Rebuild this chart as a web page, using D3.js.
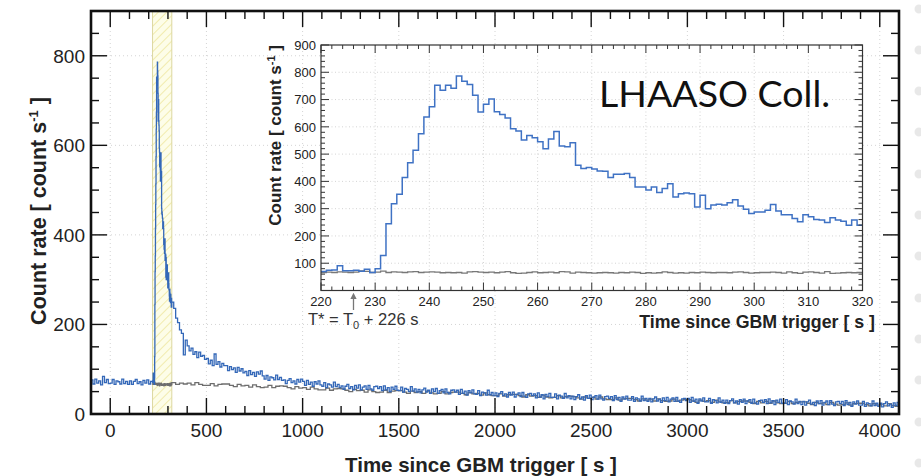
<!DOCTYPE html>
<html><head><meta charset="utf-8">
<script src="https://cdn.jsdelivr.net/npm/d3@7"></script>
<style>
body{margin:0;background:#fff;}
svg{display:block;font-family:"Liberation Sans",Arial,Helvetica,sans-serif;}
</style>
</head><body>
<svg id="c" width="921" height="476"></svg>
<script>
// ---------------- DATA ----------------
// Main panel axis ticks
const mainXTicks = [0,500,1000,1500,2000,2500,3000,3500,4000];
const mainYTicks = [0,200,400,600,800];
const insetXTicks = [220,230,240,250,260,270,280,290,300,310,320];
const insetYTicks = [100,200,300,400,500,600,700,800,900];

// Blue (total count rate), 10 s bins from -100 s to 220 s
const bluePreStart = -100, bluePreWidth = 10;
const bluePre = [76,67,78,69,74,65,84,70,77,68,
                 69,77,66,74,72,67,78,68,73,66,
                 74,66,73,77,68,72,65,75,69,76,
                 67,73];

// Inset: 1 s bins from 220 s to 320 s
const insetStart = 220, insetWidth = 1;
const insetBlue = [70,74,75,91,72,72,74,71,78,66,
                   80,128,245,318,353,414,468,514,575,636,
                   674,752,734,752,741,786,767,755,716,654,
                   683,702,655,645,632,593,585,552,568,560,
                   545,520,555,583,530,527,542,459,447,451,
                   445,438,437,414,426,426,429,414,379,379,
                   368,379,359,374,391,343,355,357,355,306,
                   349,300,313,316,313,322,333,310,298,282,
                   288,288,294,315,291,278,278,264,252,278,
                   270,260,258,249,267,258,254,239,258,239];
const insetGrey = [66,67,66,68,67,66,67,72,70,66,
                   67,71,66,68,67,66,68,69,66,67,
                   68,67,65,66,65,66,64,68,69,67,
                   66,67,65,67,69,65,63,64,66,68,
                   65,66,67,65,69,68,64,67,66,65,
                   64,65,66,65,64,66,65,67,66,63,
                   65,64,65,68,66,64,65,64,66,65,
                   67,66,65,66,66,65,67,68,66,64,
                   65,66,66,67,66,64,68,65,63,67,
                   68,66,64,69,63,64,65,66,65,66];

// Blue, 10 s bins from 320 s to 4100 s
const bluePostStart = 320, bluePostWidth = 10;
const bluePost = [250,236,214,204,188,180,132,165,
  152,141,147,133,139,126,138,129,131,122,
  124,112,120,108,134,111,117,105,113,108,
  108,97,106,99,103,93,104,96,101,92,
  95,86,97,88,93,84,94,89,96,85,
  78,86,75,83,81,76,87,77,82,75,
  76,68,75,79,70,74,67,77,71,78,
  73,64,75,66,71,62,72,67,74,65,
  62,70,59,67,65,60,71,61,66,59,
  63,55,62,66,57,61,54,64,58,65,
  54,60,63,55,64,56,53,61,62,57,
  61,52,63,54,59,50,60,55,62,53,
  52,60,49,57,55,50,61,51,56,49,
  55,47,54,58,49,53,46,56,50,57,
  46,52,55,47,56,48,45,53,54,49,
  53,44,55,46,51,42,52,47,54,45,
  44,52,41,49,47,42,53,43,48,41,
  47,39,46,50,41,45,38,48,42,49,
  38,44,47,39,48,40,37,45,46,41,
  45,36,47,38,43,34,44,39,46,37,
  37,45,34,42,40,35,46,36,41,34,
  40,32,39,43,34,38,31,41,35,42,
  32,38,41,33,42,34,31,39,40,35,
  39,30,41,32,37,28,38,33,40,31,
  31,39,28,36,34,29,40,30,35,28,
  35,27,34,38,29,33,26,36,30,37,
  27,33,36,28,37,29,26,34,35,30,
  35,26,37,28,33,24,34,29,36,27,
  27,35,24,32,30,25,36,26,31,24,
  31,23,30,34,25,29,22,32,26,33,
  23,29,32,24,33,25,22,30,31,26,
  32,23,34,25,30,21,31,26,33,24,
  24,32,21,29,27,22,33,23,28,21,
  28,20,27,31,22,26,19,29,23,30,
  20,26,29,21,30,22,19,27,28,23,
  28,19,30,21,26,17,27,22,29,20,
  20,28,17,25,23,18,29,19,24,17,
  24,16,23,27,18,22,15,25,19,26];

// Grey (background), 20 s bins from 320 s to 4100 s
const greyPostStart = 320, greyPostWidth = 20;
const greyPost = [70,66,69,67,
  69,65,70,66,64, 64,68,63,66,67, 67,64,61,66,63, 64,60,65,61,59,
  60,64,59,62,63, 62,59,56,61,58, 59,55,60,56,54, 54,58,53,56,57,
  56,53,50,55,52, 53,49,54,50,48, 49,53,48,51,52, 52,49,46,51,48,
  50,46,51,47,45, 46,50,45,48,49, 49,46,43,48,45, 46,42,47,43,41,
  41,45,40,43,44, 44,41,38,43,40, 41,37,42,38,36, 37,41,36,39,40,
  39,36,33,38,35, 37,33,38,34,32, 32,36,31,34,35, 35,32,29,34,31,
  33,29,34,30,28, 29,33,28,31,32, 32,29,26,31,28, 30,26,31,27,25,
  26,30,25,28,29, 29,26,23,28,25, 28,24,29,25,23, 24,28,23,26,27,
  27,24,21,26,23, 25,21,26,22,20, 21,25,20,23,24, 24,21,18,23,20,
  22,18,23,19,17];

// Highlighted window (s) and trigger annotation
const bandRange = [220, 320];
const tStar = 226;

// ---------------- DRAW ----------------
const svg = d3.select("#c");
const M = {l:91, r:899, t:11, b:414};
const x = d3.scaleLinear().domain([-100,4100]).range([M.l,M.r]);
const y = d3.scaleLinear().domain([0,900]).range([M.b,M.t]);

const BLUE = "#3468b8", GREY = "#6e6e6e";

function stepPoints(segs){
  const pts=[];
  segs.forEach(s=>s.values.forEach((v,i)=>{
    const x0=s.start+i*s.width; pts.push([x0,v],[x0+s.width,v]);
  }));
  return pts;
}

const defs = svg.append("defs");
defs.append("clipPath").attr("id","mainclip").append("rect")
  .attr("x",M.l).attr("y",M.t).attr("width",M.r-M.l).attr("height",M.b-M.t);
const pat = defs.append("pattern").attr("id","hatch").attr("patternUnits","userSpaceOnUse")
  .attr("width",6).attr("height",6).attr("patternTransform","rotate(45)");
pat.append("rect").attr("width",6).attr("height",6).attr("fill","#fdfde8");
pat.append("line").attr("x1",0).attr("y1",0).attr("x2",0).attr("y2",6)
  .attr("stroke","#efe7a0").attr("stroke-width",1.6);

// background page dots (slide artefact on right)
const dotYs = [9,50,91,132,174,215,256,298,339,380,422,463];
svg.selectAll("circle.pg").data(dotYs).enter().append("circle")
  .attr("cx",919).attr("cy",d=>d).attr("r",4.5).attr("fill","#e8e8e8");

// grid
const g = svg.append("g");
g.selectAll("line.gx").data(mainXTicks).enter().append("line")
  .attr("x1",d=>x(d)).attr("x2",d=>x(d)).attr("y1",M.t).attr("y2",M.b)
  .attr("stroke","#d4d4d4").attr("stroke-dasharray","1,3");
g.selectAll("line.gy").data(mainYTicks.slice(1)).enter().append("line")
  .attr("x1",M.l).attr("x2",M.r).attr("y1",d=>y(d)).attr("y2",d=>y(d))
  .attr("stroke","#d4d4d4").attr("stroke-dasharray","1,3");

// band
g.append("rect").attr("x",x(bandRange[0])).attr("y",M.t)
  .attr("width",x(bandRange[1])-x(bandRange[0])).attr("height",M.b-M.t)
  .attr("fill","url(#hatch)");
bandRange.forEach(v=>g.append("line").attr("x1",x(v)).attr("x2",x(v))
  .attr("y1",M.t).attr("y2",M.b).attr("stroke","#dcd8a0").attr("stroke-width",1));

// data lines
const line = d3.line().x(d=>x(d[0])).y(d=>y(d[1]));
const greyPts = stepPoints([{start:insetStart,width:insetWidth,values:insetGrey},
                            {start:greyPostStart,width:greyPostWidth,values:greyPost}]);
const bluePts = [[bluePreStart,0]].concat(stepPoints([
  {start:bluePreStart,width:bluePreWidth,values:bluePre},
  {start:insetStart,width:insetWidth,values:insetBlue},
  {start:bluePostStart,width:bluePostWidth,values:bluePost}]));
const dg = svg.append("g").attr("clip-path","url(#mainclip)");
dg.append("path").attr("d",line(greyPts)).attr("fill","none").attr("stroke",GREY).attr("stroke-width",1.3);
dg.append("path").attr("d",line(bluePts)).attr("fill","none").attr("stroke",BLUE).attr("stroke-width",1.3);

// ticks (main)
const xMinor = d3.range(-100,4101,100);
const yMinor = d3.range(0,901,50);
const tk = svg.append("g").attr("stroke","#111").attr("stroke-width",1.4);
xMinor.forEach(v=>{
  const L = (v%500===0)?16:8;
  tk.append("line").attr("x1",x(v)).attr("x2",x(v)).attr("y1",M.b).attr("y2",M.b-L);
  tk.append("line").attr("x1",x(v)).attr("x2",x(v)).attr("y1",M.t).attr("y2",M.t+L);
});
yMinor.forEach(v=>{
  const L = (v%200===0)?16:8;
  tk.append("line").attr("y1",y(v)).attr("y2",y(v)).attr("x1",M.l).attr("x2",M.l+L);
  tk.append("line").attr("y1",y(v)).attr("y2",y(v)).attr("x1",M.r).attr("x2",M.r-L);
});
svg.append("rect").attr("x",M.l).attr("y",M.t).attr("width",M.r-M.l).attr("height",M.b-M.t)
  .attr("fill","none").attr("stroke","#111").attr("stroke-width",2.6);

// tick labels (main)
svg.selectAll("text.xl").data(mainXTicks).enter().append("text")
  .attr("x",d=>x(d)).attr("y",437).attr("text-anchor","middle")
  .attr("font-size",19).attr("fill","#222").text(d=>d);
svg.selectAll("text.yl").data(mainYTicks).enter().append("text")
  .attr("x",85).attr("y",d=>y(d)).attr("dy","0.36em").attr("text-anchor","end")
  .attr("font-size",19).attr("fill","#222").text(d=>d);

// axis titles (main)
svg.append("text").attr("x",481).attr("y",472).attr("text-anchor","middle")
  .attr("font-size",20.5).attr("font-weight","bold").attr("fill","#222")
  .text("Time since GBM trigger [ s ]");
const yt = svg.append("text").attr("transform","translate(46,211) rotate(-90)")
  .attr("text-anchor","middle").attr("font-size",21.5).attr("font-weight","bold").attr("fill","#222");
yt.append("tspan").text("Count rate [ count s");
yt.append("tspan").attr("dy",-8).attr("font-size",13).text("-1");
yt.append("tspan").attr("dy",8).text(" ]");

// ---------------- INSET ----------------
const I = {l:321, r:862.5, t:45, b:290.5};
const xi = d3.scaleLinear().domain([220,320]).range([I.l,I.r]);
const yi = d3.scaleLinear().domain([0,900]).range([I.b,I.t]);
defs.append("clipPath").attr("id","insclip").append("rect")
  .attr("x",I.l).attr("y",I.t).attr("width",I.r-I.l).attr("height",I.b-I.t);

const ins = svg.append("g");
ins.append("rect").attr("x",I.l).attr("y",I.t).attr("width",I.r-I.l).attr("height",I.b-I.t).attr("fill","#fff");
ins.selectAll("line.gx").data(insetXTicks.slice(1,-1)).enter().append("line")
  .attr("x1",d=>xi(d)).attr("x2",d=>xi(d)).attr("y1",I.t).attr("y2",I.b)
  .attr("stroke","#d4d4d4").attr("stroke-dasharray","1,2.5");
ins.selectAll("line.gy").data(insetYTicks.slice(0,-1)).enter().append("line")
  .attr("x1",I.l).attr("x2",I.r).attr("y1",d=>yi(d)).attr("y2",d=>yi(d))
  .attr("stroke","#d4d4d4").attr("stroke-dasharray","1,2.5");

const lineI = d3.line().x(d=>xi(d[0])).y(d=>yi(d[1]));
const ig = ins.append("g").attr("clip-path","url(#insclip)");
ig.append("path").attr("d",lineI(stepPoints([{start:insetStart,width:insetWidth,values:insetGrey}])))
  .attr("fill","none").attr("stroke","#777").attr("stroke-width",1.3);
ig.append("path").attr("d",lineI(stepPoints([{start:insetStart,width:insetWidth,values:insetBlue}])))
  .attr("fill","none").attr("stroke","#3f72c4").attr("stroke-width",1.5);

// inset ticks
const itk = ins.append("g").attr("stroke","#333").attr("stroke-width",1);
d3.range(220,321,2).forEach(v=>{
  const L=(v%10===0)?8:4;
  itk.append("line").attr("x1",xi(v)).attr("x2",xi(v)).attr("y1",I.b).attr("y2",I.b-L);
  itk.append("line").attr("x1",xi(v)).attr("x2",xi(v)).attr("y1",I.t).attr("y2",I.t+L);
});
d3.range(0,901,20).forEach(v=>{
  const L=(v%100===0)?8:4;
  itk.append("line").attr("y1",yi(v)).attr("y2",yi(v)).attr("x1",I.l).attr("x2",I.l+L);
  itk.append("line").attr("y1",yi(v)).attr("y2",yi(v)).attr("x1",I.r).attr("x2",I.r-L);
});
ins.append("rect").attr("x",I.l).attr("y",I.t).attr("width",I.r-I.l).attr("height",I.b-I.t)
  .attr("fill","none").attr("stroke","#333").attr("stroke-width",1.2);

ins.selectAll("text.xl").data(insetXTicks).enter().append("text")
  .attr("x",d=>xi(d)).attr("y",306).attr("text-anchor","middle")
  .attr("font-size",13).attr("fill","#222").text(d=>d);
ins.selectAll("text.yl").data(insetYTicks).enter().append("text")
  .attr("x",316).attr("y",d=>yi(d)).attr("dy","0.36em").attr("text-anchor","end")
  .attr("font-size",13).attr("fill","#222").text(d=>d);

ins.append("text").attr("x",875).attr("y",328).attr("text-anchor","end")
  .attr("font-size",17.8).attr("font-weight","bold").attr("fill","#222")
  .text("Time since GBM trigger [ s ]");
const iyt = ins.append("text").attr("transform",`translate(281,${I.t}) rotate(-90)`)
  .attr("text-anchor","end").attr("font-size",17).attr("font-weight","bold").attr("fill","#222");
iyt.append("tspan").text("Count rate [ count s");
iyt.append("tspan").attr("dy",-6).attr("font-size",11).text("-1");
iyt.append("tspan").attr("dy",6).text(" ]");

// annotation arrow
defs.append("marker").attr("id","arr").attr("viewBox","0 0 10 10").attr("refX",5).attr("refY",5)
  .attr("markerWidth",5).attr("markerHeight",6).attr("orient","auto")
  .append("path").attr("d","M0,0 L10,5 L0,10 z").attr("fill","#777");
ins.append("line").attr("x1",xi(tStar)).attr("x2",xi(tStar)).attr("y1",310).attr("y2",296)
  .attr("stroke","#777").attr("stroke-width",1.3).attr("marker-end","url(#arr)");
const ts = ins.append("text").attr("x",308).attr("y",325).attr("font-size",16.5).attr("fill","#333");
ts.append("tspan").text("T* = T");
ts.append("tspan").attr("dy",4).attr("font-size",11).text("0");
ts.append("tspan").attr("dy",-4).text(" + 226 s");

ins.append("text").attr("x",599).attr("y",107)
  .attr("font-family","Lato, 'Noto Sans', sans-serif").attr("font-size",37.5).attr("fill","#111")
  .text("LHAASO Coll.");
</script>
</body></html>
